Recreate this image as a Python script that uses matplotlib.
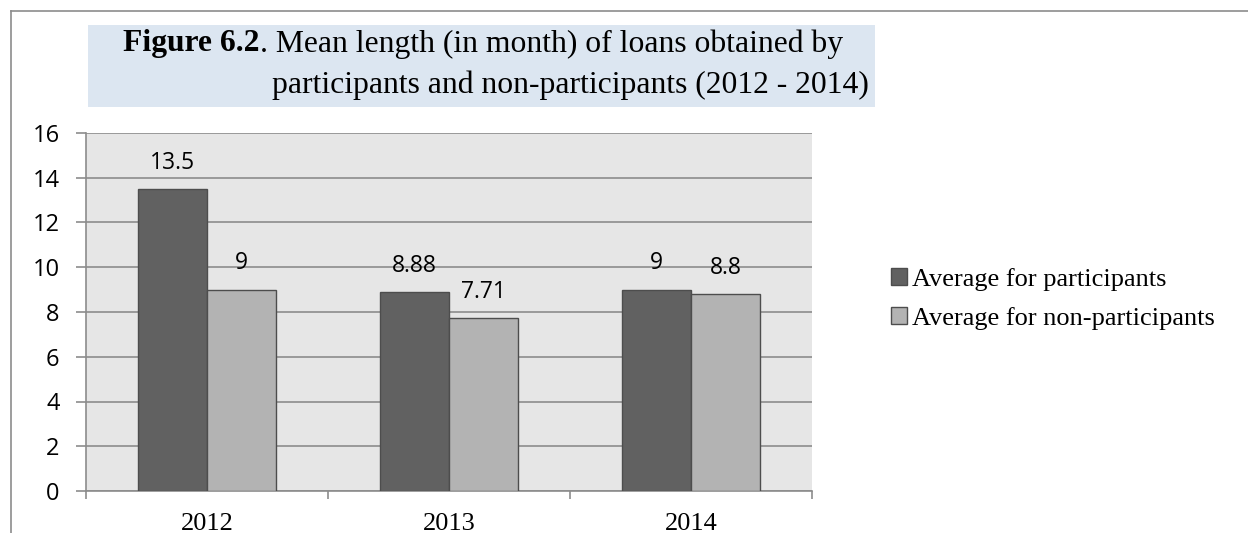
import matplotlib.pyplot as plt
from matplotlib.patches import Rectangle, Patch
from matplotlib.lines import Line2D

years = ["2012", "2013", "2014"]
participants = [13.5, 8.88, 9]
non_participants = [9, 7.71, 8.8]
series_names = ["Average for participants", "Average for non-participants"]

W, H = 1248, 533
fig = plt.figure(figsize=(W / 100, H / 100), dpi=100)

def fx(px):
    return px / W

def fy(py):
    return 1 - py / H

# outer frame (top and left edges)
fig.add_artist(Line2D([fx(11), fx(11)], [0, fy(11)], color="#8c8c8c", lw=1.2))
fig.add_artist(Line2D([fx(11), 1], [fy(11), fy(11)], color="#8c8c8c", lw=1.2))

# title box
fig.add_artist(Rectangle((fx(88), fy(107)), fx(875) - fx(88), fy(25) - fy(107),
                         facecolor="#dce6f1", edgecolor="none"))
serif = "Liberation Serif"
t1 = fig.text(fx(123), fy(44), "Figure 6.2", fontsize=22.8, fontweight="bold",
              family=serif, va="center", ha="left")
fig.canvas.draw()
bb = t1.get_window_extent()
fig.text(bb.x1 / W, fy(44), ". Mean length (in month) of loans obtained by",
         fontsize=22.8, family=serif, va="center", ha="left")
fig.text(fx(869), fy(85), "participants and non-participants (2012 - 2014)",
         fontsize=22.8, family=serif, va="center", ha="right")

# plot area
ax = fig.add_axes([fx(86), fy(491), fx(812) - fx(86), fy(133) - fy(491)])
ax.set_facecolor("#e6e6e6")
x = range(len(years))
w = 0.287
b1 = ax.bar([i - w / 2 for i in x], participants, w, color="#616161",
            edgecolor="#4d4d4d", lw=1, zorder=3)
b2 = ax.bar([i + w / 2 for i in x], non_participants, w, color="#b3b3b3",
            edgecolor="#4d4d4d", lw=1, zorder=3)

sans = "Open Sans"
for bars, vals in ((b1, participants), (b2, non_participants)):
    for rect, v in zip(bars, vals):
        ax.annotate(f"{v:g}", (rect.get_x() + rect.get_width() / 2, v),
                    xytext=(0, 19), textcoords="offset points", ha="center",
                    va="center", fontsize=16.5, family=sans)

ax.set_xlim(-0.5, 2.5)
ax.set_ylim(0, 16)
ax.set_yticks(range(0, 17, 2))
ax.yaxis.grid(True, color="#8c8c8c", lw=1.2, zorder=1)
ax.set_axisbelow(True)
for s in ("top", "right"):
    ax.spines[s].set_visible(False)
for s in ("left", "bottom"):
    ax.spines[s].set_color("#8c8c8c")
    ax.spines[s].set_linewidth(1.2)

ax.set_xticks([-0.5, 0.5, 1.5, 2.5])
ax.set_xticklabels([])
ax.set_xticks(list(x), minor=True)
ax.set_xticklabels(years, minor=True, fontsize=19, family=serif)
ax.tick_params(axis="x", which="major", length=6, color="#8c8c8c", width=1.2)
ax.tick_params(axis="x", which="minor", length=0, pad=16)
ax.tick_params(axis="y", length=7, color="#8c8c8c", width=1.2, pad=12,
               labelsize=17)
for lab in ax.get_yticklabels():
    lab.set_family(sans)

handles = [Patch(facecolor="#616161", edgecolor="#4d4d4d"),
           Patch(facecolor="#b3b3b3", edgecolor="#4d4d4d")]
fig.legend(handles, series_names, loc="center left",
           bbox_to_anchor=(fx(867), fy(299)), frameon=False,
           prop={"family": serif, "size": 19}, handlelength=0.6,
           handleheight=0.6, handletextpad=0.2, labelspacing=0.6)

fig.savefig("out.png", dpi=100, facecolor="white")
